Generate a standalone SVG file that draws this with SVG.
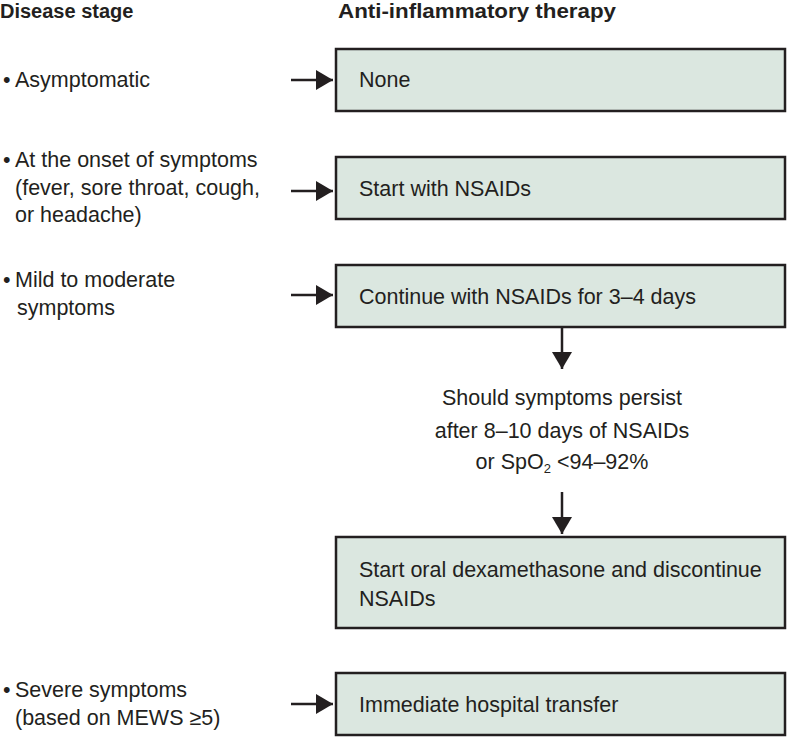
<svg xmlns="http://www.w3.org/2000/svg" width="788" height="737" viewBox="0 0 788 737">
<style>
text { font-family: "Liberation Sans", Arial, sans-serif; font-size: 21.5px; fill: #231f20; }
.head { font-weight: bold; font-size: 20px; }
.box { fill: #dbe7e0; stroke: #231f20; stroke-width: 2.5; }
.conn { stroke: #231f20; stroke-width: 2.5; fill: none; }
.mid { text-anchor: middle; }
</style>
<defs>
<marker id="ah" markerUnits="userSpaceOnUse" markerWidth="18" markerHeight="20" refX="17" refY="10" orient="auto" viewBox="0 0 18 20">
<path d="M0,0 L17,10 L0,20 Z" fill="#231f20"/>
</marker>
</defs>
<rect width="788" height="737" fill="#ffffff"/>

<g id="headings">
<text class="head" x="0" y="18">Disease stage</text>
<text class="head" x="338" y="18" font-size="21" textLength="278" lengthAdjust="spacingAndGlyphs">Anti-inflammatory therapy</text>
</g>

<g id="stage-asymptomatic">
<text x="3" y="87">•<tspan x="15">Asymptomatic</tspan></text>
</g>
<g id="stage-onset">
<text x="3" y="167">•<tspan x="15">At the onset of symptoms</tspan></text>
<text x="15" y="195">(fever, sore throat, cough,</text>
<text x="15" y="222">or headache)</text>
</g>
<g id="stage-mild">
<text x="3" y="287">•<tspan x="15">Mild to moderate</tspan></text>
<text x="17" y="315">symptoms</text>
</g>
<g id="stage-severe">
<text x="3" y="697">•<tspan x="15">Severe symptoms</tspan></text>
<text x="15" y="725">(based on MEWS ≥5)</text>
</g>

<g id="box-none">
<rect class="box" x="336" y="49" width="449" height="62"/>
<text x="359" y="87">None</text>
</g>
<g id="box-start">
<rect class="box" x="336" y="157" width="449" height="62"/>
<text x="359" y="196">Start with NSAIDs</text>
</g>
<g id="box-continue">
<rect class="box" x="336" y="265" width="449" height="62"/>
<text x="359" y="304">Continue with NSAIDs for 3–4 days</text>
</g>
<g id="condition">
<text class="mid" x="562" y="405">Should symptoms persist</text>
<text class="mid" x="562" y="438">after 8–10 days of NSAIDs</text>
<text class="mid" x="562" y="469">or SpO<tspan font-size="13" dy="4">2</tspan><tspan dy="-4"> &lt;94–92%</tspan></text>
</g>
<g id="box-dexamethasone">
<rect class="box" x="336" y="537" width="449" height="91"/>
<text x="359" y="577">Start oral dexamethasone and discontinue</text>
<text x="359" y="606">NSAIDs</text>
</g>
<g id="box-hospital">
<rect class="box" x="336" y="673" width="449" height="62"/>
<text x="359" y="712">Immediate hospital transfer</text>
</g>

<g id="connectors">
<line class="conn" x1="291" y1="80" x2="333" y2="80" marker-end="url(#ah)"/>
<line class="conn" x1="291" y1="191" x2="333" y2="191" marker-end="url(#ah)"/>
<line class="conn" x1="291" y1="295" x2="333" y2="295" marker-end="url(#ah)"/>
<line class="conn" x1="291" y1="704" x2="333" y2="704" marker-end="url(#ah)"/>
<line class="conn" x1="562" y1="328" x2="562" y2="369" marker-end="url(#ah)"/>
<line class="conn" x1="562" y1="492" x2="562" y2="534" marker-end="url(#ah)"/>
</g>
</svg>
